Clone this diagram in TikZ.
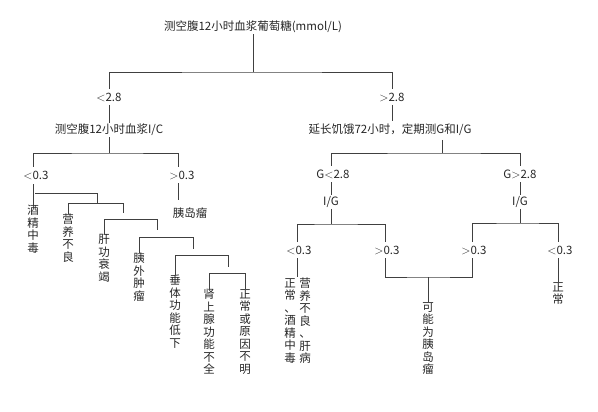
\documentclass[tikz,border=0pt]{standalone}
\usepackage{fontspec}
\newfontfamily\cjk{Noto Sans CJK SC}
\tikzset{x=1pt, y=-1pt, every picture/.style={line width=0.6pt, draw=black!75}}
\tikzset{lbl/.style={font=\cjk\fontsize{11.5}{12.5}\selectfont, inner sep=1pt, text=black!85}}
\tikzset{vt/.style={lbl, anchor=north, align=center, inner sep=0pt}}

\begin{document}
\begin{tikzpicture}
\useasboundingbox (0,0) rectangle (598,412);
\node[lbl] (top) at (253,27) {测空腹12小时血浆葡萄糖(mmol/L)};
\node[lbl] (lt) at (109,97) {$<$2.8};
\node[lbl] (rt) at (392,97) {$>$2.8};
\node[lbl] (ic) at (109,130) {测空腹12小时血浆I/C};
\node[lbl] (ig) at (390,130) {延长饥饿72小时，定期测G和I/G};
% left branch
\node[lbl] (ll) at (36,175) {$<$0.3};
\node[lbl] (lr) at (182,175) {$>$0.3};
\node[lbl, anchor=north] (tumor) at (190,206) {胰岛瘤};
\node[vt] (c1) at (33,205) {酒\\精\\中\\毒};
\node[vt] (c2) at (68,214) {营\\养\\不\\良};
\node[vt] (c3) at (104,234) {肝\\功\\衰\\竭};
\node[vt] (c4) at (139,253) {胰\\外\\肿\\瘤};
\node[vt] (c5) at (175,275) {垂\\体\\功\\能\\低\\下};
\node[vt] (c6) at (209,289) {肾\\上\\腺\\功\\能\\不\\全};
\node[vt] (c7) at (245,289) {正\\常\\或\\原\\因\\不\\明};
% right branch
\node[lbl] (gl) at (333,174) {G$<$2.8};
\node[lbl] (igl) at (331,202) {I/G};
\node[lbl] (gr) at (520,174) {G$>$2.8};
\node[lbl] (igr) at (520,202) {I/G};
\node[lbl] (a1) at (299,250) {$<$0.3};
\node[lbl] (a2) at (387,250) {$>$0.3};
\node[lbl] (a3) at (474,250) {$>$0.3};
\node[lbl] (a4) at (560,250) {$<$0.3};
\node[vt] (n1) at (290,278) {正\\常\\、\\酒\\精\\中\\毒};
\node[vt] (n2) at (305,278) {营\\养\\不\\良\\、\\肝\\病};
\node[vt] (maybe) at (428,302) {可\\能\\为\\胰\\岛\\瘤};
\node[vt] (norm) at (558,282) {正\\常};
% connectors
\draw (top) -- (253,72) coordinate (j1);
\draw (109,89) |- (j1) -| (392,89);
\draw (109,105) -- (ic);
\draw (392,105) -- (392,121);
\draw (ic) -- (109,153) coordinate (j2);
\draw (33,167) |- (j2) -| (178,167);
\draw (178,183) -- (178,200);
\draw (33,184) -- (c1.north);
\draw (35,193) -- (97,193) -- (97,203);
\draw (c2.north) -- (68,203) -- (123,203) -- (123,213);
\draw (c3.north) -- (104,219) -- (157,219) -- (157,230);
\draw (c4.north) -- (139,237) -- (193,237) -- (193,249);
\draw (c5.north) -- (175,255) -- (228,255) -- (228,267);
\draw (c6.north) -- (209,273) -- (245,273) -- (c7.north);
\draw (442,140) -- (442,153) coordinate (j3);
\draw (331,166) |- (j3) -| (520,166);
\draw (331,182) -- (igl);
\draw (520,182) -- (igr);
\draw (igl) -- (331,224) coordinate (j4);
\draw (297,242) |- (j4) -| (385,242);
\draw (igr) -- (520,223) coordinate (j5);
\draw (472,242) |- (j5) -| (558,242);
\draw (297,258) -- (297,277);
\draw (385,258) |- (428,277) coordinate (j6) -| (472,258);
\draw (j6) -- (maybe);
\draw (558,258) -- (norm);
\end{tikzpicture}
\end{document}
